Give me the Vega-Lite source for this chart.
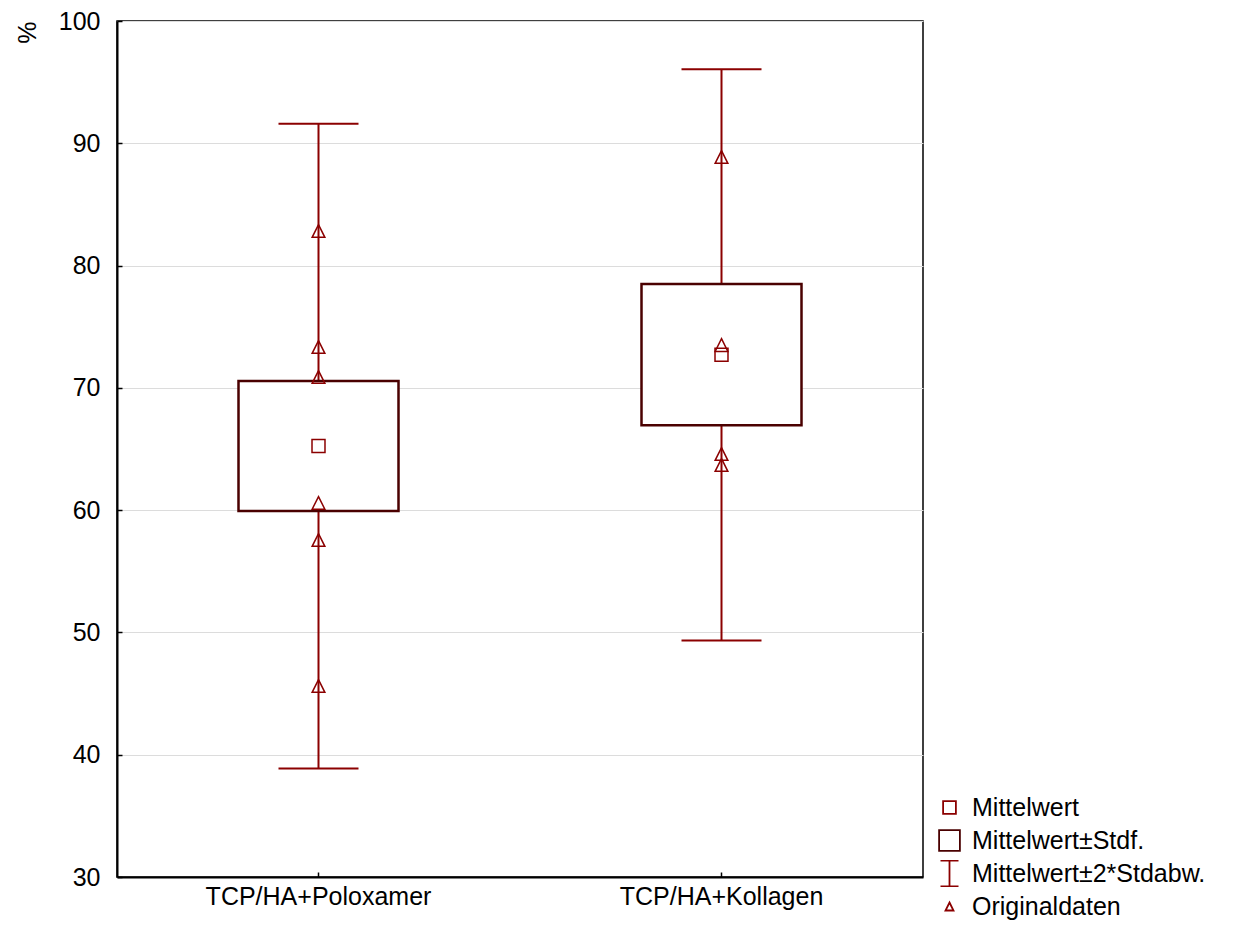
{
  "$schema": "https://vega.github.io/schema/vega-lite/v6.json",
  "width": 806,
  "height": 856,
  "autosize": {"type": "none"},
  "padding": {"left": 117, "top": 21, "right": 315, "bottom": 49},
  "background": "white",
  "datasets": {
    "stats": [
      {"gruppe": "TCP/HA+Poloxamer", "mittel": 65.25, "lo": 59.93, "hi": 70.56, "wlo": 38.87, "whi": 91.6},
      {"gruppe": "TCP/HA+Kollagen", "mittel": 72.7, "lo": 66.95, "hi": 78.5, "wlo": 49.35, "whi": 96.05}
    ],
    "raw": [
      {"gruppe": "TCP/HA+Poloxamer", "wert": 82.83},
      {"gruppe": "TCP/HA+Poloxamer", "wert": 73.34},
      {"gruppe": "TCP/HA+Poloxamer", "wert": 70.89},
      {"gruppe": "TCP/HA+Poloxamer", "wert": 60.59},
      {"gruppe": "TCP/HA+Poloxamer", "wert": 57.56},
      {"gruppe": "TCP/HA+Poloxamer", "wert": 45.62},
      {"gruppe": "TCP/HA+Kollagen", "wert": 88.88},
      {"gruppe": "TCP/HA+Kollagen", "wert": 73.5},
      {"gruppe": "TCP/HA+Kollagen", "wert": 64.59},
      {"gruppe": "TCP/HA+Kollagen", "wert": 63.69}
    ]
  },
  "config": {
    "font": "Liberation Sans",
    "view": {"stroke": "black", "strokeWidth": 1.5},
    "axis": {
      "labelFont": "Liberation Sans",
      "titleFont": "Liberation Sans",
      "labelColor": "black",
      "titleColor": "black",
      "domainColor": "black",
      "domainWidth": 2,
      "tickColor": "black",
      "tickWidth": 1.5,
      "labelLimit": 0
    },
    "legend": {
      "labelFont": "Liberation Sans",
      "labelColor": "black",
      "labelLimit": 0
    }
  },
  "encoding": {
    "x": {
      "field": "gruppe",
      "type": "nominal",
      "sort": ["TCP/HA+Poloxamer", "TCP/HA+Kollagen"],
      "scale": {"domain": ["TCP/HA+Poloxamer", "TCP/HA+Kollagen"], "paddingInner": 0, "paddingOuter": 0},
      "axis": {
        "title": null,
        "labelAngle": 0,
        "labelFontSize": 25,
        "labelPadding": 12,
        "tickSize": -5,
        "grid": false
      }
    }
  },
  "layer": [
    {
      "data": {"name": "stats"},
      "mark": {"type": "rule", "stroke": "#8b0000", "strokeWidth": 2},
      "encoding": {
        "y": {
          "field": "wlo",
          "type": "quantitative",
          "scale": {"domain": [30, 100], "nice": false, "zero": false},
          "axis": {
            "title": "%",
            "titleFontSize": 25,
            "titleFontWeight": "normal",
            "titleAnchor": "end",
            "titleX": -90,
            "titleY": 0,
            "titleAlign": "right",
            "titleBaseline": "middle",
            "values": [30, 40, 50, 60, 70, 80, 90, 100],
            "labelFontSize": 25,
            "labelPadding": 22,
            "tickSize": -5,
            "grid": true,
            "gridColor": "#dcdcdc",
            "gridWidth": 1
          }
        },
        "y2": {"field": "whi"}
      }
    },
    {
      "data": {"name": "stats"},
      "mark": {"type": "tick", "color": "#8b0000", "size": 80, "thickness": 2, "opacity": 1},
      "encoding": {"y": {"field": "wlo", "type": "quantitative"}}
    },
    {
      "data": {"name": "stats"},
      "mark": {"type": "tick", "color": "#8b0000", "size": 80, "thickness": 2, "opacity": 1},
      "encoding": {"y": {"field": "whi", "type": "quantitative"}}
    },
    {
      "data": {"name": "stats"},
      "mark": {"type": "bar", "width": 160, "fill": "white", "stroke": "#4a0000", "strokeWidth": 2.5},
      "encoding": {
        "y": {"field": "lo", "type": "quantitative"},
        "y2": {"field": "hi"}
      }
    },
    {
      "data": {"name": "raw"},
      "mark": {"type": "point", "filled": false, "fill": "white", "fillOpacity": 0, "size": 1008, "strokeWidth": 1.5, "opacity": 1},
      "encoding": {
        "y": {"field": "wert", "type": "quantitative"},
        "shape": {
          "datum": "Originaldaten",
          "scale": {
            "domain": ["Mittelwert", "Mittelwert±Stdf.", "Mittelwert±2*Stdabw.", "Originaldaten"],
            "range": [
              "M-0.64,-0.64L0.64,-0.64L0.64,0.64L-0.64,0.64Z",
              "M-1.04,-1.04L1.04,-1.04L1.04,1.04L-1.04,1.04Z",
              "M-0.9,-1.3L0.9,-1.3M0,-1.3L0,1.3M-0.9,1.3L0.9,1.3",
              "M0,-0.4L0.4,0.4L-0.4,0.4Z"
            ]
          },
          "legend": {
            "title": null,
            "orient": "none",
            "legendX": 820,
            "legendY": 773,
            "symbolSize": 400,
            "symbolStrokeWidth": 1.8,
            "symbolFillColor": "white",
            "labelFontSize": 25,
            "labelOffset": 10,
            "clipHeight": 27,
            "rowPadding": 6,
            "padding": 0
          }
        },
        "stroke": {
          "datum": "Originaldaten",
          "scale": {
            "domain": ["Mittelwert", "Mittelwert±Stdf.", "Mittelwert±2*Stdabw.", "Originaldaten"],
            "range": ["#8b0000", "#4a0000", "#8b0000", "#8b0000"]
          },
          "legend": {
            "title": null,
            "orient": "none",
            "legendX": 820,
            "legendY": 773,
            "symbolSize": 400,
            "symbolStrokeWidth": 1.8,
            "symbolFillColor": "white",
            "labelFontSize": 25,
            "labelOffset": 10,
            "clipHeight": 27,
            "rowPadding": 6,
            "padding": 0
          }
        }
      }
    },
    {
      "data": {"name": "stats"},
      "mark": {"type": "point", "filled": false, "fill": "white", "fillOpacity": 0, "size": 412, "strokeWidth": 1.5, "opacity": 1},
      "encoding": {
        "y": {"field": "mittel", "type": "quantitative"},
        "shape": {"datum": "Mittelwert"},
        "stroke": {"datum": "Mittelwert"}
      }
    }
  ]
}
